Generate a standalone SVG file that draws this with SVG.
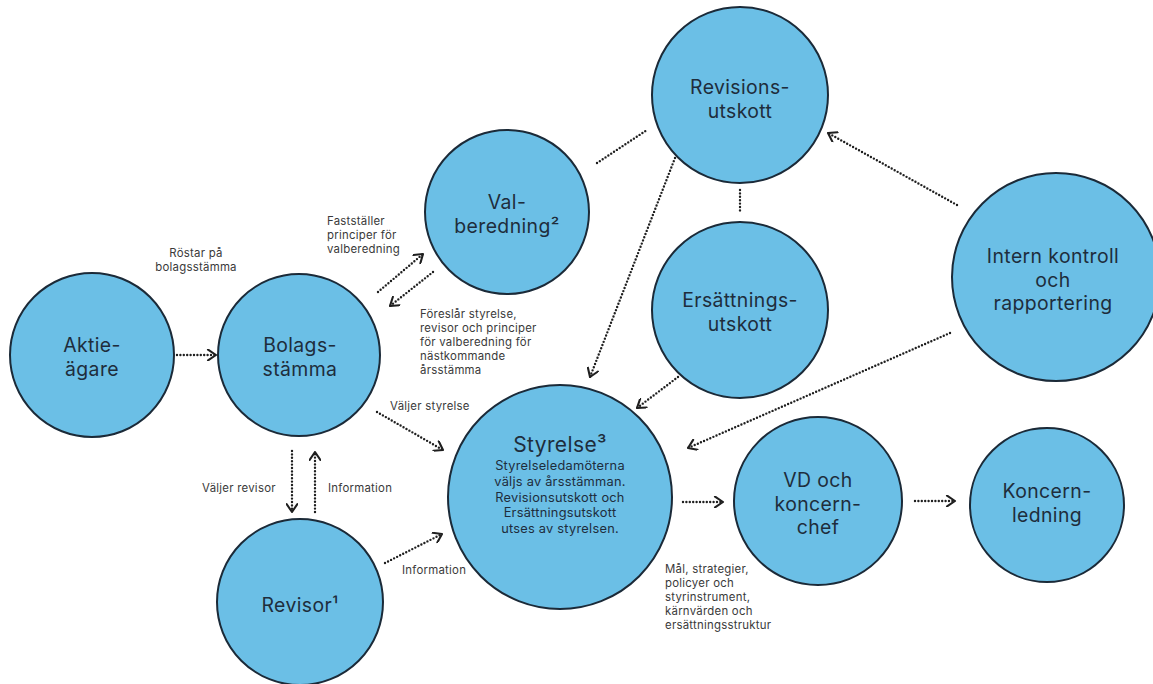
<svg xmlns="http://www.w3.org/2000/svg" width="1153" height="684" viewBox="0 0 1153 684">
<style>
.node circle{fill:#6BBFE6;stroke:#1B2A38;stroke-width:2}
.lbl{font-family:Inter,"Noto Sans","Liberation Sans",sans-serif;font-size:19.4px;letter-spacing:0.4px;fill:#1E2D3C;text-anchor:middle}
.ttl{font-size:21px}
.body{font-family:Inter,"Noto Sans","Liberation Sans",sans-serif;font-size:12.8px;letter-spacing:0.25px;fill:#1E2D3C;text-anchor:middle}
.note{font-family:Inter,"Noto Sans","Liberation Sans",sans-serif;font-size:11.4px;letter-spacing:0.25px;fill:#3A3A3A}
.mid{text-anchor:middle}
.c{fill:none;stroke:#1F1F1F;stroke-width:2.4;stroke-dasharray:0 3.4;stroke-linecap:round}
.a{marker-end:url(#arr)}
</style>
<defs>
<marker id="arr" viewBox="0 0 12 12" refX="10.5" refY="6" markerWidth="12" markerHeight="12" markerUnits="userSpaceOnUse" orient="auto">
<path d="M2.5,0.6 L10.5,6 L2.5,11.4" fill="none" stroke="#1F1F1F" stroke-width="2.1" stroke-linecap="round" stroke-linejoin="round"/>
</marker>
</defs>
<rect width="1153" height="684" fill="#fff"/>
<g id="connectors">
<line class="c a" x1="177" y1="355" x2="216" y2="355"/>
<line class="c a" x1="378" y1="292" x2="423" y2="254"/>
<line class="c a" x1="433" y1="272" x2="390" y2="306"/>
<line class="c" x1="597" y1="163" x2="647" y2="130"/>
<line class="c" x1="740" y1="190" x2="740" y2="213"/>
<line class="c a" x1="957" y1="205" x2="828" y2="133"/>
<line class="c a" x1="675" y1="158" x2="590" y2="377"/>
<line class="c a" x1="678" y1="377" x2="637" y2="408"/>
<line class="c a" x1="950" y1="333" x2="688" y2="448"/>
<line class="c a" x1="377" y1="412" x2="443" y2="450"/>
<line class="c a" x1="292" y1="451" x2="292" y2="512"/>
<line class="c a" x1="315" y1="512" x2="315" y2="452"/>
<line class="c a" x1="385" y1="563" x2="442" y2="534"/>
<line class="c a" x1="683" y1="502" x2="723" y2="502"/>
<line class="c a" x1="915" y1="501" x2="955" y2="501"/>
</g>
<g id="labels">
<text class="note mid"><tspan x="196" y="257">Röstar på</tspan><tspan x="196" y="271">bolagsstämma</tspan></text>
<text class="note"><tspan x="327" y="225">Fastställer</tspan><tspan x="327" y="239">principer för</tspan><tspan x="327" y="253">valberedning</tspan></text>
<text class="note"><tspan x="420" y="318">Föreslår styrelse,</tspan><tspan x="420" y="332">revisor och principer</tspan><tspan x="420" y="346">för valberedning för</tspan><tspan x="420" y="360">nästkommande</tspan><tspan x="420" y="374">årsstämma</tspan></text>
<text class="note" x="390" y="410">Väljer styrelse</text>
<text class="note" x="202" y="492">Väljer revisor</text>
<text class="note" x="328" y="492">Information</text>
<text class="note" x="402" y="574">Information</text>
<text class="note"><tspan x="665" y="573">Mål, strategier,</tspan><tspan x="665" y="587">policyer och</tspan><tspan x="665" y="601">styrinstrument,</tspan><tspan x="665" y="615">kärnvärden och</tspan><tspan x="665" y="629">ersättningsstruktur</tspan></text>
</g>
<g id="aktieagare" class="node"><circle cx="92" cy="355" r="82"/><text class="lbl"><tspan x="92" y="352">Aktie-</tspan><tspan x="92" y="375.5">ägare</tspan></text></g>
<g id="bolagsstamma" class="node"><circle cx="299" cy="355" r="81"/><text class="lbl"><tspan x="300" y="352">Bolags-</tspan><tspan x="300" y="375.5">stämma</tspan></text></g>
<g id="valberedning" class="node"><circle cx="507" cy="212" r="82"/><text class="lbl"><tspan x="507" y="209">Val-</tspan><tspan x="507" y="232.5">beredning²</tspan></text></g>
<g id="revisionsutskott" class="node"><circle cx="740" cy="95" r="88"/><text class="lbl"><tspan x="740" y="94">Revisions-</tspan><tspan x="740" y="117.5">utskott</tspan></text></g>
<g id="ersattningsutskott" class="node"><circle cx="740" cy="310" r="88"/><text class="lbl"><tspan x="740" y="307">Ersättnings-</tspan><tspan x="740" y="330.5">utskott</tspan></text></g>
<g id="internkontroll" class="node"><circle cx="1056" cy="277" r="104"/><text class="lbl"><tspan x="1053" y="263">Intern kontroll</tspan><tspan x="1053" y="286.5">och</tspan><tspan x="1053" y="310">rapportering</tspan></text></g>
<g id="styrelse" class="node"><circle cx="560" cy="497" r="112"/><text class="lbl ttl" x="560" y="452">Styrelse³</text><text class="body"><tspan x="560" y="470">Styrelseledamöterna</tspan><tspan x="560" y="485.8">väljs av årsstämman.</tspan><tspan x="560" y="501.6">Revisionsutskott och</tspan><tspan x="560" y="517.4">Ersättningsutskott</tspan><tspan x="560" y="533.2">utses av styrelsen.</tspan></text></g>
<g id="revisor" class="node"><circle cx="300" cy="602" r="83"/><text class="lbl" x="300" y="612">Revisor¹</text></g>
<g id="vd" class="node"><circle cx="818" cy="501" r="84"/><text class="lbl"><tspan x="818" y="487">VD och</tspan><tspan x="818" y="510.5">koncern-</tspan><tspan x="818" y="534">chef</tspan></text></g>
<g id="koncernledning" class="node"><circle cx="1047" cy="505" r="77"/><text class="lbl"><tspan x="1047" y="498">Koncern-</tspan><tspan x="1047" y="521.5">ledning</tspan></text></g>
</svg>
